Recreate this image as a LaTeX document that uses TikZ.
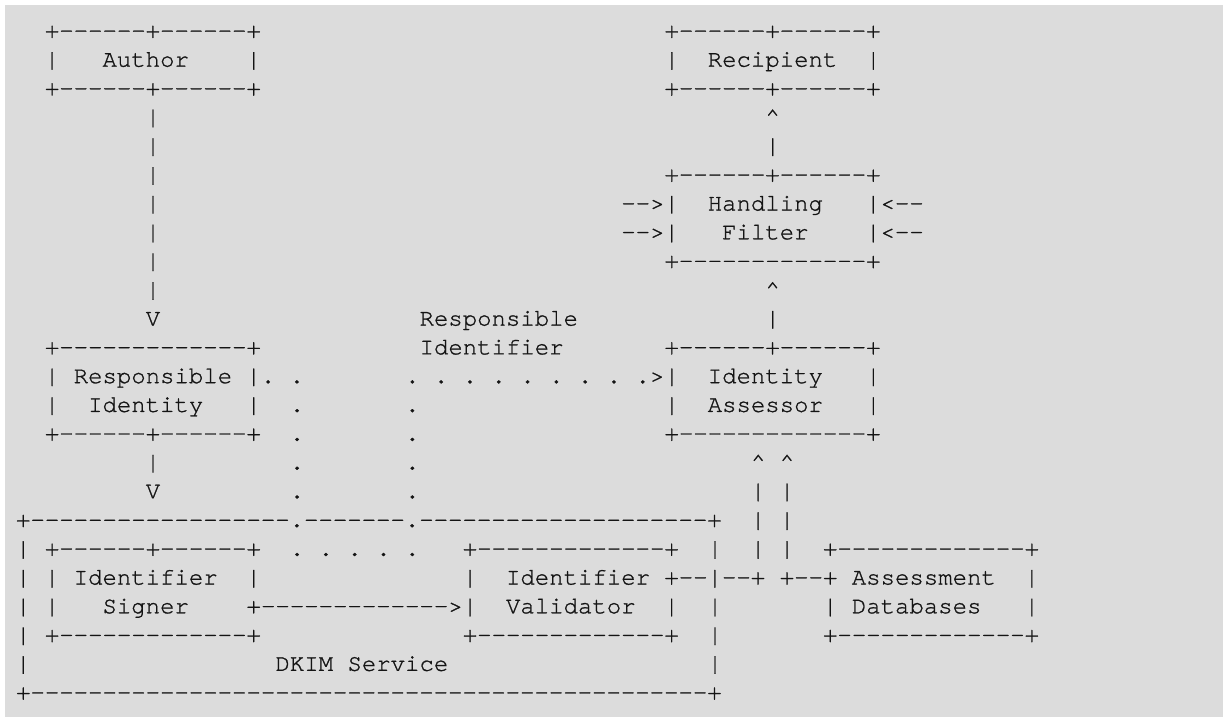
\documentclass[tikz,border=0pt]{standalone}
\usepackage{fontspec}
\setmonofont{TeX Gyre Cursor}[FakeBold=1,Ligatures={NoCommon,NoRare}]
\definecolor{bggray}{RGB}{220,220,220}
\definecolor{ink}{RGB}{20,20,20}
\newcommand\T[4]{\node[txt] (#1) at ({16.1+14.41*(#3)},{37.9+28.77*((#2)-1)}) {#4};}
\newcommand\up{\textasciicircum}
\begin{document}
\begin{tikzpicture}[x=0.75pt,y=-0.75pt,
  txt/.style={anchor=base west,inner sep=0pt,outer sep=0pt,text=ink,
    font=\ttfamily\fontsize{18}{20}\selectfont}]
\useasboundingbox (0,0) rectangle (1223,717);
\fill[white] (0,0) rectangle (1223,717);
\fill[bggray] (5,5) rectangle (1223,717);
\frenchspacing
% row 1-3
\T{aTop}{1}{2}{+------+------+}
\T{rTop}{1}{45}{+------+------+}
\T{aMid}{2}{2}{|~~~Author~~~~|}
\T{rMid}{2}{45}{|~~Recipient~~|}
\T{aBot}{3}{2}{+------+------+}
\T{rBot}{3}{45}{+------+------+}
% author -> responsible identity line
\T{v4}{4}{9}{|}
\T{v5}{5}{9}{|}
\T{v6}{6}{9}{|}
\T{v7}{7}{9}{|}
\T{v8}{8}{9}{|}
\T{v9}{9}{9}{|}
\T{v10}{10}{9}{|}
\T{v11}{11}{9}{V}
% handling filter -> recipient
\T{c4}{4}{52}{\up}
\T{c5}{5}{52}{|}
\T{hTop}{6}{45}{+------+------+}
\T{hMidA}{7}{42}{-->|~~Handling~~~|<--}
\T{hMidB}{8}{42}{-->|~~~Filter~~~~|<--}
\T{hBot}{9}{45}{+-------------+}
\T{c10}{10}{52}{\up}
\T{c11}{11}{52}{|}
% responsible identifier label
\T{lblA}{11}{28}{Responsible}
\T{lblB}{12}{28}{Identifier}
% responsible identity box
\T{riTop}{12}{2}{+-------------+}
\T{riMidA}{13}{2}{|~Responsible~|.~.}
\T{riMidB}{14}{2}{|~~Identity~~~|}
\T{riBot}{15}{2}{+------+------+}
\T{dotsArrow}{13}{27}{.~.~.~.~.~.~.~.~.>}
% identity assessor box
\T{iaTop}{12}{45}{+------+------+}
\T{iaMidA}{13}{45}{|~~Identity~~~|}
\T{iaMidB}{14}{45}{|~~Assessor~~~|}
\T{iaBot}{15}{45}{+-------------+}
% dotted verticals
\T{d14a}{14}{19}{.}
\T{d14b}{14}{27}{.}
\T{d15a}{15}{19}{.}
\T{d15b}{15}{27}{.}
\T{d16a}{16}{19}{.}
\T{d16b}{16}{27}{.}
\T{d17a}{17}{19}{.}
\T{d17b}{17}{27}{.}
% responsible identity -> DKIM
\T{v16}{16}{9}{|}
\T{v17}{17}{9}{V}
% arrows up to assessor
\T{u16}{16}{51}{\up~\up}
\T{u17}{17}{51}{|~|}
\T{u18}{18}{51}{|~|}
\T{u19}{19}{51}{|~|}
% DKIM service outer box
\T{dkTop}{18}{0}{+------------------.-------.--------------------+}
\T{dkL19}{19}{0}{|}
\T{dkR19}{19}{48}{|}
\T{dkR21}{21}{48}{|}
\T{dkL22}{22}{0}{|}
\T{dkR22}{22}{48}{|}
\T{dkL23}{23}{0}{|}
\T{dkLbl}{23}{18}{DKIM~Service}
\T{dkR23}{23}{48}{|}
\T{dkBot}{24}{0}{+-----------------------------------------------+}
% signer box
\T{sTop}{19}{2}{+------+------+}
\T{sMidA}{20}{0}{|~|~Identifier~~|}
\T{sMidB}{21}{0}{|~|~~~Signer~~~~+}
\T{sBot}{22}{2}{+-------------+}
\T{dots19}{19}{19}{.~.~.~.~.}
\T{sigArrow}{21}{17}{------------->}
% validator box
\T{vTop}{19}{31}{+-------------+}
\T{vMid}{20}{31}{|~~Identifier~+--|--+}
\T{vMidB}{21}{31}{|~~Validator~~|}
\T{vBot}{22}{31}{+-------------+}
\T{link20b}{20}{53}{+--}
% assessment databases box
\T{adTop}{19}{56}{+-------------+}
\T{adMidA}{20}{56}{+~Assessment~~|}
\T{adMidB}{21}{56}{|~Databases~~~|}
\T{adBot}{22}{56}{+-------------+}
\end{tikzpicture}
\end{document}
